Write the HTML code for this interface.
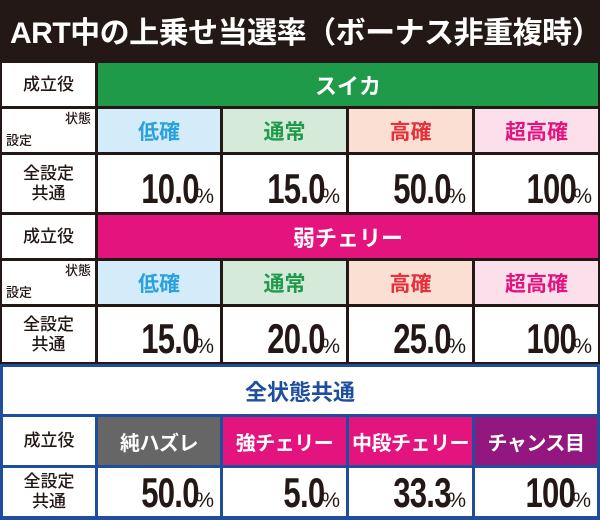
<!DOCTYPE html>
<html><head><meta charset="utf-8"><style>
body{margin:0;width:600px;height:520px;overflow:hidden;background:#231815;position:relative;font-family:"Liberation Sans","Noto Sans CJK JP",sans-serif}
.c{position:absolute;box-sizing:border-box;display:flex;align-items:center;justify-content:center;font-weight:bold;background:#fff;white-space:nowrap}
.lbl{font-size:17px;color:#231815;font-weight:500;line-height:1.15;text-align:center;white-space:normal}
.hd{font-size:22px;color:#fff}
.st{font-size:21px}
.cr{font-size:20px;letter-spacing:-0.5px}
.v{justify-content:flex-end;padding-right:6px;align-items:flex-end;padding-bottom:2px;color:#231815}
.v .n{font-size:42px;font-weight:bold;display:inline-block;transform:scaleX(.74);transform-origin:right bottom;letter-spacing:-1px;line-height:1}
.v .p{font-size:21px;font-weight:normal;line-height:1;margin-left:-3px;margin-bottom:3px}
</style></head><body>
<div style="position:absolute;left:10px;top:8px;color:#fff;font-size:30px;font-weight:bold;white-space:nowrap;letter-spacing:-0.5px">ART中の上乗せ当選率（ボーナス非重複時）</div>
<div style="position:absolute;left:0;top:364px;width:600px;height:156px;background:#1e4e9c"></div>
<script>
const cols=[[2,95],[98,220],[223,346],[349,472],[475,598]];
const stBg=['#d4ecf9','#d5ead9','#fadfd2','#fbe0ec'],stFg=['#2aa1dd','#1f9a4a','#e8303c','#e4147f'];
const states=['低確','通常','高確','超高確'];
const suikaVals=['10.0','15.0','50.0','100'];
const cherryVals=['15.0','20.0','25.0','100'];
const commonVals=['50.0','5.0','33.3','100'];
const commonRoles=['純ハズレ','強チェリー','中段チェリー','チャンス目'];
const roleBg=['#666666','#e4147f','#e4147f','#92177f'];
const g=document.body;
function cell(x0,x1,y0,y1,cls,html,name,bg,fg){
 const d=document.createElement('div');d.className='c '+cls;
 d.style.cssText+=`left:${x0}px;top:${y0}px;width:${x1-x0}px;height:${y1-y0}px;`+(bg?`background:${bg};`:'')+(fg?`color:${fg};`:'');
 d.innerHTML=html;
 
 
 g.appendChild(d);
}
function block(y,role,roleColor,vals,key){
 cell(2,95,y[0],y[1],'lbl','成立役','role-label-'+key);
 cell(98,598,y[0],y[1],'hd',role,'role-header-'+key,roleColor);
 cell(2,95,y[2],y[3],'lbl','<span style="position:absolute;right:4px;top:3px;font-size:13px">状態</span><span style="position:absolute;left:4px;bottom:3px;font-size:13px">設定</span>','state-setting-label-'+key);
 for(let i=0;i<4;i++)cell(cols[i+1][0],cols[i+1][1],y[2],y[3],'st',states[i],'state-'+key+'-'+i,stBg[i],stFg[i]);
 cell(2,95,y[4],y[5],'lbl','全設定<br>共通','all-settings-label-'+key);
 for(let i=0;i<4;i++)cell(cols[i+1][0],cols[i+1][1],y[4],y[5],'v',`<span class="n">${vals[i]}</span><span class="p">%</span>`,'rate-'+key+'-'+i);
}
block([63,106,109,152,155,212],'スイカ','#1e9a48',suikaVals,'suika');
block([215,258,261,304,307,362],'弱チェリー','#e4147f',cherryVals,'weak-cherry');
cell(3,597,367,414,'hd','全状態共通','common-header','#fff','#1e4e9c');
cell(3,95,417,465,'lbl','成立役','role-label-common');
for(let i=0;i<4;i++)cell(cols[i+1][0],Math.min(cols[i+1][1],597),417,465,'cr',commonRoles[i],'common-role-'+i,roleBg[i],'#fff');
cell(3,95,468,516,'lbl','全設定<br>共通','all-settings-label-common');
for(let i=0;i<4;i++)cell(cols[i+1][0],Math.min(cols[i+1][1],597),468,516,'v',`<span class="n">${commonVals[i]}</span><span class="p">%</span>`,'common-rate-'+i);
</script>
</body></html>
